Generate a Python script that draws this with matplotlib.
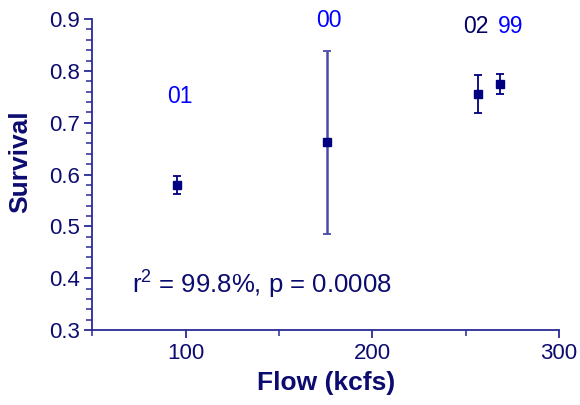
#!/usr/bin/env python3

import matplotlib
matplotlib.use("Agg")
import matplotlib.pyplot as plt
from matplotlib.ticker import MultipleLocator

#-------------------------------------------------------------
# data
years = ["01", "00", "02", "99"]
flow = [95.5, 175.5, 256.5, 268.5]
survival = [0.579, 0.662, 0.756, 0.775]
errLow = [0.016, 0.177, 0.037, 0.019]
errHigh = [0.018, 0.176, 0.037, 0.019]
labelX = [97, 176.5, 255.5, 274]
labelY = [0.75, 0.898, 0.885, 0.885]
labelColors = ["#0000ff", "#0000ff", "#000066", "#0000ff"]
statText = r"r$^2$ = 99.8%, p = 0.0008"

navy = "#000080"
axisColor = "#2a2a96"
textColor = "#0c0c70"

#-------------------------------------------------------------
def main():

    plt.rcParams['font.family'] = ['Liberation Sans', 'DejaVu Sans']
    plt.rcParams['mathtext.fontset'] = 'custom'
    plt.rcParams['mathtext.rm'] = 'Liberation Sans'

    fig = plt.figure(figsize=(5.8, 4.05), dpi=100)
    ax = fig.add_axes([0.159, 0.185, 0.805, 0.768])

    #error bars, the 2000 one drawn lighter like the reference
    for i in range(len(flow)):
        lineColor = "#4a4aa8" if years[i] == "00" else navy
        lineWidth = 1.8 if years[i] == "00" else 1.3
        ax.errorbar(flow[i], survival[i], yerr=[[errLow[i]], [errHigh[i]]],
                    fmt='s', color=navy, ecolor=lineColor, elinewidth=lineWidth,
                    capsize=3, capthick=1.3, markersize=5.5, zorder=3)

    for i in range(len(years)):
        ax.text(labelX[i], labelY[i], years[i], color=labelColors[i],
                fontsize=16.5, ha='center', va='center')

    ax.text(71.5, 0.39, statText, color=textColor, fontsize=18.5,
            ha='left', va='center')

    ax.set_xlim(50, 300)
    ax.set_ylim(0.3, 0.9)
    ax.xaxis.set_major_locator(MultipleLocator(100))
    ax.xaxis.set_minor_locator(MultipleLocator(50))
    ax.yaxis.set_major_locator(MultipleLocator(0.1))
    ax.yaxis.set_minor_locator(MultipleLocator(0.02))
    ax.set_yticks([0.3, 0.4, 0.5, 0.6, 0.7, 0.8, 0.9])
    ax.set_yticklabels(["0.3", "0.4", "0.5", "0.6", "0.7", "0.8", "0.9"])
    ax.set_xticks([100, 200, 300])
    ax.set_xticklabels(["100", "200", "300"])

    for side in ["top", "right"]:
        ax.spines[side].set_visible(False)
    for side in ["left", "bottom"]:
        ax.spines[side].set_color(axisColor)
        ax.spines[side].set_linewidth(1.3)

    ax.tick_params(which='major', length=6, width=1.3, color=axisColor,
                   labelcolor=textColor, labelsize=16, pad=3)
    ax.tick_params(which='minor', length=4, width=1.1, color=axisColor)

    ax.set_xlabel("Flow (kcfs)", fontsize=19, fontweight='bold',
                  color=textColor, labelpad=5)
    ax.set_ylabel("Survival", fontsize=19, fontweight='bold',
                  color=textColor)
    ax.yaxis.set_label_coords(-0.128, 0.542)

    fig.savefig("out.png", dpi=100)
    plt.close(fig)

#-------------------------------------------------------------
if __name__ == "__main__":
    main()
